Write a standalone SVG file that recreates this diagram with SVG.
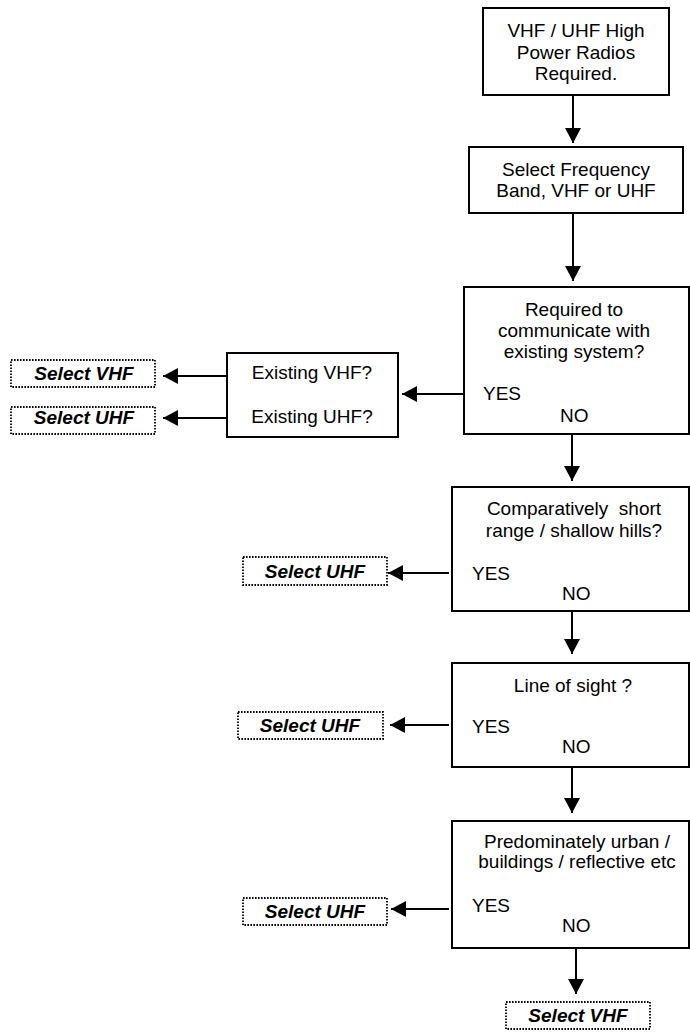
<svg xmlns="http://www.w3.org/2000/svg" width="690" height="1032" viewBox="0 0 690 1032">
<style>
.box{fill:#fff;stroke:#000;stroke-width:2}
.dot{fill:#fff;stroke:#000;stroke-width:1.8;stroke-dasharray:1.6 1.4}
.t{font-family:"Liberation Sans",Arial,sans-serif;font-size:19px;fill:#000}
.c{text-anchor:middle}
.b{font-weight:bold;font-style:italic}
.ln{stroke:#000;stroke-width:2;fill:none;marker-end:url(#ah)}
</style>
<defs>
<marker id="ah" markerWidth="15" markerHeight="16" refX="15" refY="8" orient="auto" markerUnits="userSpaceOnUse">
<path d="M0,0 L15,8 L0,16 z" fill="#000"/>
</marker>
</defs>
<rect width="690" height="1032" fill="#fff"/>
<g id="connectors">
<line class="ln" x1="573" y1="95" x2="573" y2="143"/>
<line class="ln" x1="573" y1="213" x2="573" y2="281"/>
<line class="ln" x1="463" y1="394" x2="402" y2="394"/>
<line class="ln" x1="226" y1="376" x2="163" y2="376"/>
<line class="ln" x1="226" y1="418" x2="163" y2="418"/>
<line class="ln" x1="572" y1="434" x2="572" y2="481"/>
<line class="ln" x1="449" y1="573" x2="388" y2="573"/>
<line class="ln" x1="572" y1="611" x2="572" y2="654"/>
<line class="ln" x1="449" y1="725" x2="390" y2="725"/>
<line class="ln" x1="572" y1="767" x2="572" y2="813"/>
<line class="ln" x1="449" y1="909" x2="391" y2="909"/>
<line class="ln" x1="576" y1="948" x2="576" y2="994"/>
</g>
<g id="n1">
<rect class="box" x="483" y="8" width="186" height="87"/>
<text class="t c" x="576" y="37">VHF / UHF High</text>
<text class="t c" x="576" y="58.5">Power Radios</text>
<text class="t c" x="576" y="80">Required.</text>
</g>
<g id="n2">
<rect class="box" x="469" y="147" width="214" height="66"/>
<text class="t c" x="576" y="176">Select Frequency</text>
<text class="t c" x="576" y="197">Band, VHF or UHF</text>
</g>
<g id="n3">
<rect class="box" x="464" y="287" width="225" height="147"/>
<text class="t c" x="574" y="316">Required to</text>
<text class="t c" x="574" y="337">communicate with</text>
<text class="t c" x="574" y="358">existing system?</text>
<text class="t" x="483" y="400">YES</text>
<text class="t" x="560" y="422">NO</text>
</g>
<g id="n4">
<rect class="box" x="227" y="353" width="171" height="84"/>
<text class="t c" x="312" y="379">Existing VHF?</text>
<text class="t c" x="312" y="423">Existing UHF?</text>
</g>
<g id="n5">
<rect class="dot" x="11" y="360" width="144" height="27"/>
<text class="t c b" x="84" y="380">Select VHF</text>
</g>
<g id="n6">
<rect class="dot" x="11" y="407" width="144" height="27"/>
<text class="t c b" x="84" y="424">Select UHF</text>
</g>
<g id="n7">
<rect class="box" x="452" y="487" width="237" height="124"/>
<text class="t c" x="574" y="515" xml:space="preserve">Comparatively  short</text>
<text class="t c" x="574" y="537">range / shallow hills?</text>
<text class="t" x="472" y="580">YES</text>
<text class="t" x="562" y="600">NO</text>
</g>
<g id="n8">
<rect class="dot" x="243" y="557" width="144" height="28"/>
<text class="t c b" x="315" y="578">Select UHF</text>
</g>
<g id="n9">
<rect class="box" x="452" y="663" width="237" height="104"/>
<text class="t c" x="573" y="692">Line of sight ?</text>
<text class="t" x="472" y="733">YES</text>
<text class="t" x="562" y="753">NO</text>
</g>
<g id="n10">
<rect class="dot" x="238" y="712" width="145" height="27"/>
<text class="t c b" x="310" y="732">Select UHF</text>
</g>
<g id="n11">
<rect class="box" x="452" y="821" width="237" height="127"/>
<text class="t c" x="577" y="848">Predominately urban /</text>
<text class="t c" x="577" y="868">buildings / reflective etc</text>
<text class="t" x="472" y="912">YES</text>
<text class="t" x="562" y="932">NO</text>
</g>
<g id="n12">
<rect class="dot" x="243" y="898" width="144" height="27"/>
<text class="t c b" x="315" y="918">Select UHF</text>
</g>
<g id="n13">
<rect class="dot" x="506" y="1002" width="144" height="27"/>
<text class="t c b" x="578" y="1022">Select VHF</text>
</g>
</svg>
